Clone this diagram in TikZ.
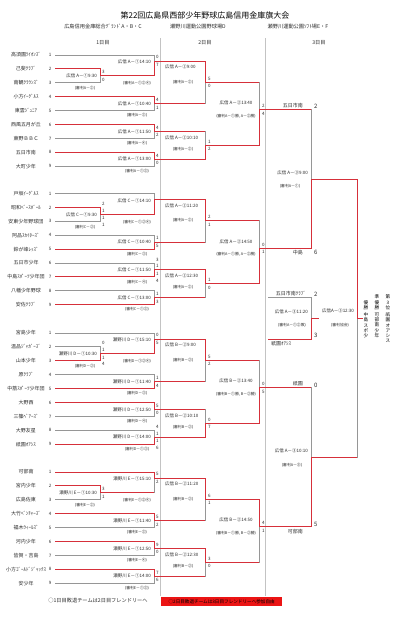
\documentclass[tikz,border=0pt]{standalone}
\usepackage{fontspec}
\newfontfamily\jp{Noto Sans CJK JP}
\definecolor{lred}{RGB}{214,48,58}
\definecolor{lgray}{RGB}{150,150,150}
\definecolor{sepgray}{RGB}{195,195,195}
\definecolor{txt}{RGB}{45,45,45}
\definecolor{boxred}{RGB}{235,20,20}
\tikzset{
 win/.style={draw=lred, line width=1pt, line cap=rect},
 lose/.style={draw=lgray, line width=1pt, line cap=rect},
 htop d1t/.style={win}, hbot d1t/.style={lose}, htop d1b/.style={lose}, hbot d1b/.style={win},
 htop d2t/.style={win}, hbot d2t/.style={win}, htop d2b/.style={win}, hbot d2b/.style={win},
 htop mt/.style={win}, hbot mt/.style={win}, htop mb/.style={lose}, hbot mb/.style={win},
 vtop t/.style={win}, vbot t/.style={lose}, vtop b/.style={lose}, vbot b/.style={win},
 txtbase/.style={inner sep=0pt, text=txt},
 team/.style={txtbase, font=\jp\fontsize{5}{6}\selectfont},
 num/.style={txtbase, font=\jp\fontsize{4.5}{5}\selectfont},
 lab/.style={txtbase, font=\jp\fontsize{4.5}{5}\selectfont},
 ump/.style={txtbase, font=\jp\fontsize{3.8}{4.5}\selectfont},
 score/.style={txtbase, anchor=west, font=\jp\fontsize{4.5}{5}\selectfont},
 bigscore/.style={txtbase, anchor=west, font=\jp\fontsize{6}{7}\selectfont},
 vtext/.style={txtbase, align=center, font=\jp\fontsize{4.6}{5.3}\selectfont, text=black},
 hdr/.style={txtbase, font=\jp\fontsize{5.2}{6}\selectfont},
 ttl/.style={txtbase, font=\jp\fontsize{8}{9}\selectfont, text=black},
 sep/.style={draw=sepgray, line width=0.6pt},
}
% name, xs top, xs bottom, x vertical, y top, y bottom, y out, mode, winner
\newcommand\bmatch[9]{%
 \coordinate (#1-a) at (#2,#5);
 \coordinate (#1-c) at (#3,#6);
 \coordinate (#1-b) at (#4,#5);
 \coordinate (#1-d) at (#4,#6);
 \coordinate (#1-o) at (#4,#7);
 \draw[htop #8#9] (#1-a) -- (#1-b);
 \draw[hbot #8#9] (#1-c) -- (#1-d);
 \draw[vtop #9] (#1-b) -- (#1-o);
 \draw[vbot #9] (#1-o) -- (#1-d);
}
\newcommand\dayonebl[7]{%
 \bmatch{#1s}{55}{55}{100}{#2+13.9}{#2+27.8}{#2+20.85}{d1}{#3}
 \bmatch{#1m}{55}{100}{154}{#2}{#2+20.85}{#2+6}{m}{#4}
 \bmatch{#1p}{55}{55}{154}{#2+41.7}{#2+55.6}{#2+48.65}{d1}{#5}
 \bmatch{#1q}{55}{55}{154}{#2+69.5}{#2+83.4}{#2+76.45}{d1}{#6}
 \bmatch{#1r}{55}{55}{154}{#2+97.3}{#2+111.2}{#2+104.25}{d1}{#7}
}
\newcommand\daytwobl[5]{%
 \bmatch{#1u}{154}{154}{205}{#2+6}{#2+48.65}{#2+27.33}{d2}{#3}
 \bmatch{#1v}{154}{154}{205}{#2+76.45}{#2+104.25}{#2+90.35}{d2}{#4}
 \bmatch{#1w}{205}{205}{259}{#2+27.33}{#2+90.35}{#2+54.8}{d2}{#5}
}
\newcommand\bscores[5]{%
 \node[score] (#1t) at (#2,#3-3.8) {#4};
 \node[score] (#1b) at (#2,#3+3.8) {#5};}
\newcommand\bextra[5]{%
 \node[score] (#1x) at (#2,#3-10.5) {#4};
 \node[score] (#1y) at (#2,#3+10.5) {#5};}
\newcommand\teamblock[3]{%
 \foreach \nm [count=\i] in {#3} {%
  \node[team] (#1n\i) at (26,#2+13.9*\i-13.9) {\nm};
  \node[num] (#1k\i) at (50,#2+13.9*\i-13.9) {\i};}}
\newcommand\dayonelab[9]{%
 \node[lab, anchor=east] (#1ls) at (97,#2+20.85) {#3\ #4－①#5};
 \node[ump] (#1us) at (85,#2+33.3) {(審判#4－②)};
 \node[lab, anchor=east] (#1lm) at (151,#2+7) {#3\ #4－①#6};
 \node[ump] (#1um) at (137,#2+28.4) {(審判#4－①②④)};
 \node[lab, anchor=east] (#1lp) at (151,#2+48.65) {#3\ #4－①#7};
 \node[ump] (#1up) at (137,#2+60.6) {(審判#4－③)};
 \node[lab, anchor=east] (#1lq) at (151,#2+76.45) {#3\ #4－①#8};
 \node[ump] (#1uq) at (137,#2+88.4) {(審判#4－④)};
 \node[lab, anchor=east] (#1lr) at (151,#2+104.25) {#3\ #4－①#9};
 \node[ump] (#1ur) at (137,#2+116.2) {(審判#4－①③)};
}
\newcommand\daytwolab[6]{%
 \node[lab, anchor=west] (#1lu) at (165,#2+12) {広信\ #3－②#4};
 \node[ump] (#1uu) at (183,#2+27) {(審判#3－②)};
 \node[lab, anchor=west] (#1lv) at (165,#2+82.5) {広信\ #3－②#5};
 \node[ump] (#1uv) at (183,#2+94) {(審判#3－②)};
 \node[lab] (#1lw) at (236,#2+48) {広信\ #3－②#6};
 \node[ump] (#1uw) at (236,#2+61) {(審判#3－①勝, #3－②勝)};
}
\begin{document}
\begin{tikzpicture}[x=1pt,y=-1pt]
\path[fill=white, use as bounding box] (0,0) rectangle (418,640);

% headers
\node[ttl] (title) at (205,15) {第22回広島県西部少年野球広島信用金庫旗大会};
\node[hdr] (ven1) at (103,26.5) {広島信用金庫総合ｸﾞﾗﾝﾄﾞA・B・C};
\node[hdr] (ven2) at (198,26.5) {瀬野川運動公園野球場D};
\node[hdr] (ven3) at (298,26.5) {瀬野川運動公園ｿﾌﾄ場E・F};
\node[hdr] (day1) at (103,43) {1日目};
\node[hdr] (day2) at (205,43) {2日目};
\node[hdr] (day3) at (319,43) {3日目};

% separators
\coordinate (sepAt) at (160.5,38); \coordinate (sepAb) at (160.5,596);
\coordinate (sepBt) at (265.5,38); \coordinate (sepBb) at (265.5,596);
\draw[sep] (sepAt) -- (sepAb);
\draw[sep] (sepBt) -- (sepBb);

% teams
\teamblock{b1}{55}{高須園ﾗｲｵﾝｽﾞ,己斐ｸﾗﾌﾞ,南観ｸﾗｳﾝｽﾞ,小方ｲｰｸﾞﾙｽ,東雲ｼﾞｭﾆｱ,西風五月が丘,東野ＢＢＣ,五日市南,大町少年}
\teamblock{b2}{193.5}{戸坂ｲｰｸﾞﾙｽ,昭和ﾍﾞｰｽﾎﾞｰﾙ,安東少年野球団,阿品ｽｶｲﾀｰｽﾞ,鈴が峰ﾚｯｽﾞ,五日市少年,中島ｽﾎﾟｰﾂ少年団,八幡少年野球,安佐ｸﾗﾌﾞ}
\teamblock{b3}{333}{宮島少年,温品ｼﾞｬｶﾞｰｽﾞ,山本少年,原ｸﾗﾌﾞ,中筋ｽﾎﾟｰﾂ少年団,大野西,三篠ﾍﾞｱｰｽﾞ,大野友星,祇園ｵｱｼｽ}
\teamblock{b4}{472}{可部南,宮内少年,広島佐東,大竹ﾍﾞﾝﾁｬｰｽﾞ,福木ｳｨｰﾙｽﾞ,河内少年,皆賀・吉島,小方ｺﾞｰﾙﾄﾞｼﾞｬｯｸｽ,安少年}

% brackets day 1 & 2
\dayonebl{b1}{55}{t}{b}{t}{t}{t}
\daytwobl{b1}{55}{t}{b}{b}
\dayonebl{b2}{193.5}{t}{b}{b}{b}{b}
\daytwobl{b2}{193.5}{t}{t}{b}
\dayonebl{b3}{333}{b}{b}{b}{t}{b}
\daytwobl{b3}{333}{t}{b}{b}
\dayonebl{b4}{472}{t}{t}{t}{t}{t}
\daytwobl{b4}{472}{t}{t}{t}

% day 3
\bmatch{s1}{259}{259}{311}{109.8}{248.3}{179.05}{d2}{b}
\bmatch{s2}{259}{259}{311}{387.8}{526.8}{457.3}{d2}{b}
\bmatch{s3}{268}{268}{311}{297.5}{339.4}{318.4}{d1}{b}
\bmatch{fin}{311}{311}{357}{179.05}{457.3}{318.2}{d2}{t}
\coordinate (s3-e) at (318,318.4);
\draw[win] (s3-o) -- (s3-e);
\coordinate (fin-e) at (362,318.2);
\draw[win] (fin-o) -- (fin-e);

% labels
\dayonelab{b1}{55}{広信}{A}{9:30}{14:10}{10:40}{11:50}{13:00}
\dayonelab{b2}{193.5}{広信}{C}{9:30}{14:10}{10:40}{11:50}{13:00}
\dayonelab{b3}{333}{瀬野川}{D}{10:30}{15:10}{11:40}{12:50}{14:00}
\dayonelab{b4}{472}{瀬野川}{E}{10:30}{15:10}{11:40}{12:50}{14:00}
\daytwolab{b1}{55}{A}{9:00}{10:10}{13:40}
\daytwolab{b2}{193.5}{A}{11:20}{12:30}{14:50}
\daytwolab{b3}{333}{B}{9:00}{10:10}{13:40}
\daytwolab{b4}{472}{B}{11:20}{12:30}{14:50}

% scores block 1
\bscores{b1ss}{102}{55+20.85}{3}{0}
\bscores{b1ms}{156}{55+6}{0}{7}
\bscores{b1ps}{156}{55+48.65}{4}{1}
\bscores{b1qs}{156}{55+76.45}{4}{2}
\bscores{b1rs}{156}{55+104.25}{4}{0}
\bscores{b1us}{208}{55+27.33}{5}{0}
\bscores{b1vs}{208}{55+90.35}{1}{2}
\bscores{b1ws}{262}{55+54.8}{2}{4}
% block 2
\bscores{b2ss}{102}{193.5+20.85}{1}{1}
\bextra{b2ss}{102}{193.5+20.85}{2}{1}
\bscores{b2ps}{156}{193.5+48.65}{1}{5}
\bscores{b2qs}{156}{193.5+76.45}{1}{1}
\bextra{b2qs}{156}{193.5+76.45}{3}{4}
\bscores{b2rs}{156}{193.5+104.25}{1}{3}
\bscores{b2us}{208}{193.5+27.33}{2}{1}
\bscores{b2vs}{208}{193.5+90.35}{1}{0}
\bscores{b2ws}{262}{193.5+54.8}{0}{1}
% block 3
\bscores{b3ss}{102}{333+20.85}{1}{1}
\bextra{b3ss}{102}{333+20.85}{0}{4}
\bscores{b3ms}{156}{333+6}{0}{5}
\bscores{b3ps}{156}{333+48.65}{1}{4}
\bscores{b3qs}{156}{333+76.45}{5}{0}
\bscores{b3rs}{156}{333+104.25}{1}{1}
\bextra{b3rs}{156}{333+104.25}{4}{6}
\bscores{b3us}{208}{333+27.33}{5}{2}
\bscores{b3vs}{208}{333+90.35}{0}{7}
\bscores{b3ws}{262}{333+54.8}{0}{5}
% block 4
\bscores{b4ss}{102}{472+20.85}{3}{1}
\bscores{b4ms}{156}{472+6}{5}{2}
\bscores{b4ps}{156}{472+48.65}{5}{2}
\bscores{b4qs}{156}{472+76.45}{9}{0}
\bscores{b4rs}{156}{472+104.25}{7}{6}
\bscores{b4us}{208}{472+27.33}{6}{1}
\bscores{b4vs}{208}{472+90.35}{3}{0}
\bscores{b4ws}{262}{472+54.8}{4}{1}

% day 3 texts
\node[team, anchor=south east] (d3n1) at (303,108.3) {五日市南};
\node[bigscore] (d3s1) at (314,106.5) {2};
\node[team, anchor=north east] (d3n2) at (303,249.8) {中島};
\node[bigscore] (d3s2) at (314,252) {6};
\node[lab, anchor=east] (d3l1) at (308,173) {広信\ A－③9:00};
\node[ump] (d3u1) at (290,186) {(審判A－①)};

\node[team, anchor=south east] (d3n3) at (306,296) {五日市南ｸﾗﾌﾞ};
\node[bigscore] (d3s3) at (314,294) {2};
\node[lab, anchor=east] (d3l3) at (308,312) {広信\ A－③11:20};
\node[ump] (d3u3) at (292,325) {(審判A－①②敗)};
\node[bigscore] (d3s4) at (314,335.5) {3};
\node[team, anchor=north west] (d3n4) at (271,341) {祇園ｵｱｼｽ};

\node[team, anchor=south east] (d3n5) at (303,386.3) {祇園};
\node[bigscore] (d3s5) at (314,385) {0};
\node[lab, anchor=east] (d3l5) at (308,451) {広信\ A－③10:10};
\node[ump] (d3u5) at (292,465) {(審判A－⑤)};
\node[bigscore] (d3s6) at (314,524) {5};
\node[team, anchor=north east] (d3n6) at (303,528.8) {可部南};

\node[lab] (finl) at (338,311) {広信A－③12:30};
\node[ump] (finu) at (340,325) {(審判協会)};

% results (vertical)
\node[vtext, anchor=south] (r1a) at (366,310) {優\\勝};
\node[vtext, anchor=north] (r1b) at (366,312.5) {中\\島\\ス\\ポ\\少};
\node[vtext, anchor=south] (r2a) at (377,310) {準\\優\\勝};
\node[vtext, anchor=north] (r2b) at (377,312.5) {可\\部\\南\\少\\年};
\node[vtext, anchor=south] (r3a) at (388,310) {第\\3\\位};
\node[vtext, anchor=north] (r3b) at (388,312.5) {祇\\園\\オ\\ア\\シ\\ス};

% footer
\node[hdr] (foot1) at (98,601) {○1日目敗退チームは2日目フレンドリーへ};
\node[txtbase, fill=boxred, anchor=west, minimum width=121pt, minimum height=9pt,
      font=\jp\fontsize{4.6}{5}\selectfont, text=black] (foot2) at (161,601.5)
      {○2日目敗退チームは3日目フレンドリーへ参加自由};
\end{tikzpicture}
\end{document}
